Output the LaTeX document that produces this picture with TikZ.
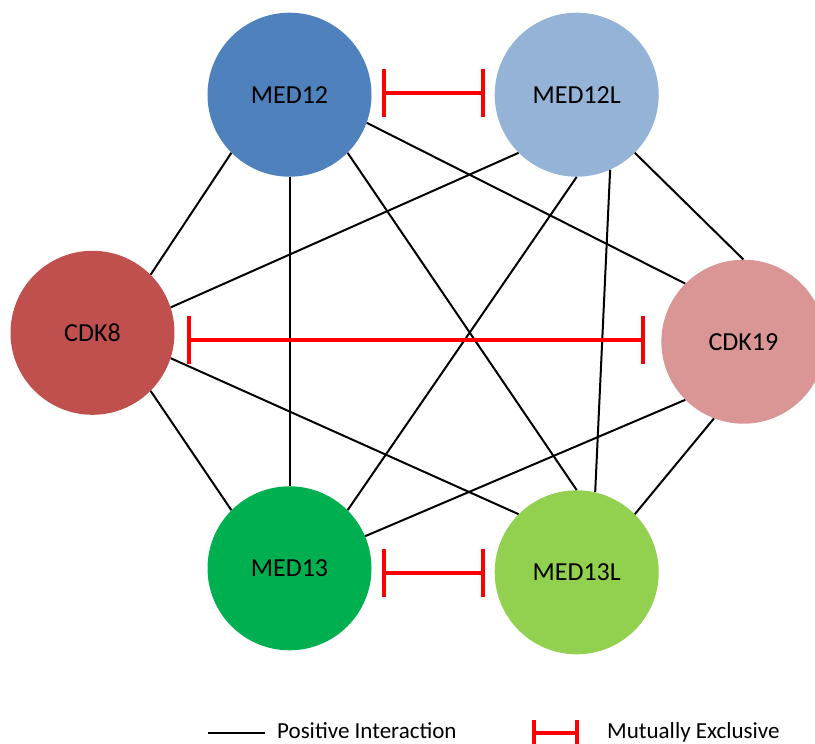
\documentclass[tikz,border=0pt]{standalone}
\usepackage{fontspec}
\setmainfont{Carlito}
\usetikzlibrary{arrows.meta}
\definecolor{cMEDa}{HTML}{4F81BD}
\definecolor{cMEDb}{HTML}{95B3D7}
\definecolor{cCDKa}{HTML}{C0504D}
\definecolor{cCDKb}{HTML}{D99694}
\definecolor{cMEDc}{HTML}{00B050}
\definecolor{cMEDd}{HTML}{92D050}
\definecolor{inhred}{HTML}{FF0000}
\begin{document}
\begin{tikzpicture}[x=1pt,y=-1pt,
  gene/.style={circle, minimum size=164pt, inner sep=0pt, draw=none,
    font=\fontsize{26}{30}\selectfont, text=black},
  edge/.style={line width=2pt, black},
  inhib/.style={line width=4pt, inhred, {Bar[width=48pt]}-{Bar[width=48pt]}},
  leginhib/.style={line width=4pt, inhred, {Bar[width=26pt]}-{Bar[width=26pt]}},
  legtext/.style={anchor=base west, inner sep=0pt, font=\fontsize{23}{27}\selectfont, text=black}
]
\path[use as bounding box, clip] (0,0) rectangle (815,744);
\fill[white] (0,0) rectangle (815,744);

\node[gene, fill=cMEDa] (med12)  at (289.5,94.7) {MED12};
\node[gene, fill=cMEDb] (med12l) at (576.7,94.7) {MED12L};
\node[gene, fill=cCDKa] (cdk8)   at (92.5,332.8) {CDK8};
\node[gene, fill=cCDKb] (cdk19)  at (743.4,341.7) {CDK19};
\node[gene, fill=cMEDc] (med13)  at (289.5,568.3) {MED13};
\node[gene, fill=cMEDd] (med13l) at (576.7,572.3) {MED13L};

% positive interactions
\draw[edge] (med12.225) -- (cdk8.45);
\draw[edge] (med12.270) -- (med13.90);
\draw[edge] (med12.315) -- (med13l.90);
\draw[edge] (med12.340) -- (cdk19.135);
\draw[edge] (med12l.225) -- (cdk8.18);
\draw[edge] (med12l.270) -- (med13.45);
\draw[edge] (med12l.294) -- (med13l.77);
\draw[edge] (med12l.315) -- (cdk19.90);
\draw[edge] (cdk8.342) -- (med13l.135);
\draw[edge] (cdk8.315) -- (med13.135);
\draw[edge] (cdk19.225) -- (med13.23);
\draw[edge] (cdk19.249) -- (med13l.45);

% mutually exclusive
\coordinate (ia1) at (382,93);
\coordinate (ib1) at (485,93);
\coordinate (ia2) at (187,339.5);
\coordinate (ib2) at (645,339.5);
\coordinate (ia3) at (382,573);
\coordinate (ib3) at (485,573);
\draw[inhib] (ia1) -- (ib1);
\draw[inhib] (ia2) -- (ib2);
\draw[inhib] (ia3) -- (ib3);

% legend
\coordinate (lga) at (208,732.5);
\coordinate (lgb) at (265,732.5);
\draw[edge] (lga) -- (lgb);
\node[legtext] (lgt1) at (277,738.5) {Positive Interaction};
\coordinate (lgc) at (532,732.5);
\coordinate (lgd) at (579,732.5);
\draw[leginhib] (lgc) -- (lgd);
\node[legtext] (lgt2) at (607,738.5) {Mutually Exclusive};
\end{tikzpicture}
\end{document}
